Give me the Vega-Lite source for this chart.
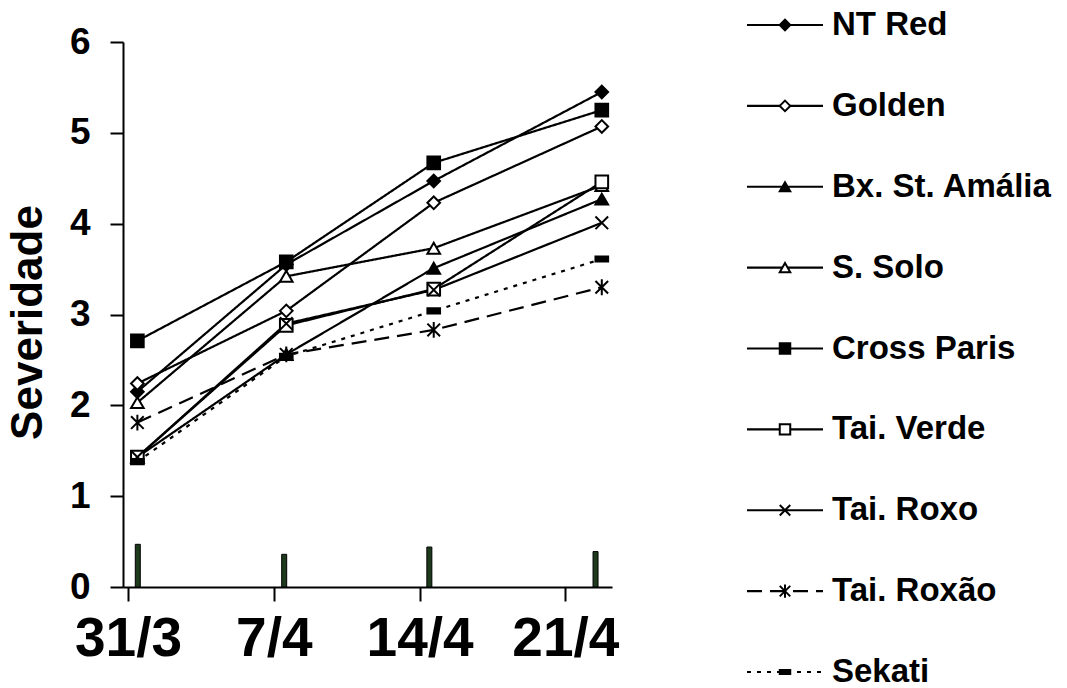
{
  "$schema": "https://vega.github.io/schema/vega-lite/v6.json",
  "autosize": "none",
  "width": 489,
  "height": 545,
  "padding": {"left": 123, "top": 42, "right": 455, "bottom": 101},
  "background": "white",
  "config": {
    "view": {"stroke": null},
    "font": "Liberation Sans",
    "axis": {"grid": false}
  },
  "datasets": {
    "series": [
      {"series": "NT Red", "d": 0.45, "v": 2.15},
      {"series": "NT Red", "d": 7.6, "v": 3.55},
      {"series": "NT Red", "d": 14.68, "v": 4.47},
      {"series": "NT Red", "d": 22.75, "v": 5.45},
      {"series": "Golden", "d": 0.45, "v": 2.24},
      {"series": "Golden", "d": 7.6, "v": 3.04},
      {"series": "Golden", "d": 14.68, "v": 4.23},
      {"series": "Golden", "d": 22.75, "v": 5.07},
      {"series": "Bx. St. Amália", "d": 0.45, "v": 1.43},
      {"series": "Bx. St. Amália", "d": 7.6, "v": 2.56},
      {"series": "Bx. St. Amália", "d": 14.68, "v": 3.51},
      {"series": "Bx. St. Amália", "d": 22.75, "v": 4.27},
      {"series": "S. Solo", "d": 0.45, "v": 2.03},
      {"series": "S. Solo", "d": 7.6, "v": 3.42},
      {"series": "S. Solo", "d": 14.68, "v": 3.73},
      {"series": "S. Solo", "d": 22.75, "v": 4.42},
      {"series": "Cross Paris", "d": 0.45, "v": 2.71},
      {"series": "Cross Paris", "d": 7.6, "v": 3.58},
      {"series": "Cross Paris", "d": 14.68, "v": 4.67},
      {"series": "Cross Paris", "d": 22.75, "v": 5.25},
      {"series": "Tai. Verde", "d": 0.45, "v": 1.43},
      {"series": "Tai. Verde", "d": 7.6, "v": 2.88},
      {"series": "Tai. Verde", "d": 14.68, "v": 3.28},
      {"series": "Tai. Verde", "d": 22.75, "v": 4.46},
      {"series": "Tai. Roxo", "d": 0.45, "v": 1.43},
      {"series": "Tai. Roxo", "d": 7.6, "v": 2.9},
      {"series": "Tai. Roxo", "d": 14.68, "v": 3.27},
      {"series": "Tai. Roxo", "d": 22.75, "v": 4.01},
      {"series": "Tai. Roxão", "d": 0.45, "v": 1.81},
      {"series": "Tai. Roxão", "d": 7.6, "v": 2.56},
      {"series": "Tai. Roxão", "d": 14.68, "v": 2.83},
      {"series": "Tai. Roxão", "d": 22.75, "v": 3.3},
      {"series": "Sekati", "d": 0.45, "v": 1.38},
      {"series": "Sekati", "d": 7.6, "v": 2.54},
      {"series": "Sekati", "d": 14.68, "v": 3.04},
      {"series": "Sekati", "d": 22.75, "v": 3.61}
    ],
    "bars": [
      {"d": 0.47, "v": 0.47},
      {"d": 7.5, "v": 0.36},
      {"d": 14.47, "v": 0.44},
      {"d": 22.45, "v": 0.39}
    ],
    "legend": [
      {"series": "NT Red"},
      {"series": "Golden"},
      {"series": "Bx. St. Amália"},
      {"series": "S. Solo"},
      {"series": "Cross Paris"},
      {"series": "Tai. Verde"},
      {"series": "Tai. Roxo"},
      {"series": "Tai. Roxão"},
      {"series": "Sekati"}
    ]
  },
  "layer": [
    {
      "encoding": {
        "x": {
          "field": "d",
          "type": "quantitative",
          "scale": {"domain": [0, 23], "nice": false, "zero": false},
          "axis": {
            "title": null,
            "values": [0, 7, 14, 21],
            "labelExpr": "datum.value == 0 ? '31/3' : datum.value == 7 ? '7/4' : datum.value == 14 ? '14/4' : '21/4'",
            "domainColor": "black",
            "domainWidth": 2,
            "tickColor": "black",
            "tickWidth": 2,
            "tickSize": 14,
            "labelFontSize": 55,
            "labelFontWeight": "bold",
            "labelColor": "black",
            "labelPadding": 11,
            "labelFlush": false,
            "labelOverlap": false
          }
        },
        "y": {
          "field": "v",
          "type": "quantitative",
          "scale": {"domain": [0, 6], "nice": false},
          "axis": {
            "title": "Severidade",
            "values": [0, 1, 2, 3, 4, 5, 6],
            "domainColor": "black",
            "domainWidth": 2,
            "tickColor": "black",
            "tickWidth": 2,
            "tickSize": 13,
            "labelFontSize": 37,
            "labelFontWeight": "bold",
            "labelColor": "black",
            "labelPadding": 20,
            "labelFlush": false,
            "labelOverlap": false,
            "titleFontSize": 44,
            "titleFontWeight": "bold",
            "titleColor": "black",
            "titleAngle": -90,
            "titleAlign": "center",
            "titleBaseline": "middle",
            "titleX": -95,
            "titleY": 280
          }
        }
      },
      "layer": [
        {
          "data": {"name": "bars"},
          "mark": {"type": "bar", "orient": "vertical", "width": 5, "fill": "#1d3a1d", "stroke": "black", "strokeWidth": 1},
          "encoding": {}
        },
        {
          "data": {"name": "series"},
          "mark": {"type": "line", "color": "black", "strokeWidth": 2.2},
          "encoding": {
            "detail": {"field": "series"},
            "strokeDash": {
              "field": "series",
              "type": "nominal",
              "scale": {
                "domain": ["NT Red", "Golden", "Bx. St. Amália", "S. Solo", "Cross Paris", "Tai. Verde", "Tai. Roxo", "Tai. Roxão", "Sekati"],
                "range": [[1, 0], [1, 0], [1, 0], [1, 0], [1, 0], [1, 0], [1, 0], [15, 8], [4, 6]]
              },
              "legend": null
            }
          }
        },
        {
          "data": {"name": "series"},
          "mark": {"type": "point", "filled": true, "stroke": "black", "strokeWidth": 2, "size": 160, "opacity": 1},
          "encoding": {
            "shape": {
              "field": "series",
              "type": "nominal",
              "scale": {
                "domain": ["NT Red", "Golden", "Bx. St. Amália", "S. Solo", "Cross Paris", "Tai. Verde", "Tai. Roxo", "Tai. Roxão", "Sekati"],
                "range": ["diamond", "diamond", "triangle-up", "triangle-up", "square", "square", "M-1,-1L1,1M-1,1L1,-1", "M-1,-1L1,1M-1,1L1,-1M0,-1.25V1.25", "M-1,-0.4H1V0.4H-1Z"]
              },
              "legend": null
            },
            "fill": {
              "field": "series",
              "type": "nominal",
              "scale": {
                "domain": ["NT Red", "Golden", "Bx. St. Amália", "S. Solo", "Cross Paris", "Tai. Verde", "Tai. Roxo", "Tai. Roxão", "Sekati"],
                "range": ["black", "white", "black", "white", "black", "white", "black", "black", "black"]
              },
              "legend": null
            }
          }
        }
      ]
    },
    {
      "data": {"name": "legend"},
      "encoding": {
        "y": {
          "field": "series",
          "type": "nominal",
          "sort": null,
          "scale": {
            "type": "point",
            "domain": ["NT Red", "Golden", "Bx. St. Amália", "S. Solo", "Cross Paris", "Tai. Verde", "Tai. Roxo", "Tai. Roxão", "Sekati"],
            "range": [-17, 630],
            "padding": 0
          },
          "axis": null
        }
      },
      "layer": [
        {
          "mark": {"type": "rule", "color": "black", "strokeWidth": 2.2},
          "encoding": {
            "x": {"datum": 0, "type": "quantitative", "scale": {"domain": [0, 1], "range": [624, 700], "nice": false, "zero": false}, "axis": null},
            "x2": {"datum": 1},
            "strokeDash": {"field": "series", "type": "nominal", "legend": null}
          }
        },
        {
          "mark": {"type": "point", "filled": true, "stroke": "black", "strokeWidth": 2, "size": 110, "opacity": 1},
          "encoding": {
            "x": {"datum": 0.5, "type": "quantitative"},
            "shape": {"field": "series", "type": "nominal", "legend": null},
            "fill": {"field": "series", "type": "nominal", "legend": null}
          }
        },
        {
          "mark": {"type": "text", "align": "left", "baseline": "middle", "dx": 9, "fontSize": 33, "fontWeight": "bold", "color": "black", "font": "Liberation Sans"},
          "encoding": {
            "x": {"datum": 1, "type": "quantitative"},
            "text": {"field": "series"}
          }
        }
      ]
    }
  ],
  "resolve": {"scale": {"x": "independent", "y": "independent"}}
}
